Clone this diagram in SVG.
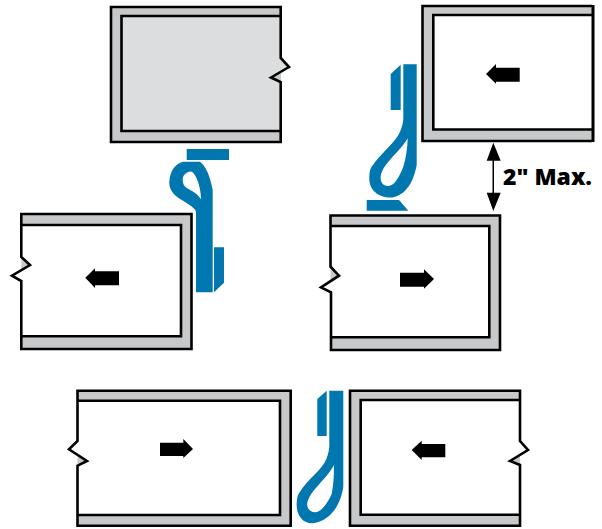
<svg xmlns="http://www.w3.org/2000/svg" width="602" height="529" viewBox="0 0 602 529">
<style>
.f{fill:#c7c8ca;stroke:none}
.w{fill:#fff;stroke:none}
.g{fill:#dcddde;stroke:none}
.l{fill:none;stroke:#000;stroke-width:2.6;stroke-linejoin:miter}
.c{fill:#0077ae}
.a{fill:#000}
text{font-family:"Open Sans","Liberation Sans",sans-serif;font-weight:800;font-size:23px;fill:#000}
</style>
<rect width="602" height="529" fill="#fff"/>
<g id="panel-top-left">
<path class="f" d="M111 7H281V142H111Z"/>
<path class="g" d="M121.500 16H280.700V58L289 67L271 77.500L281 82V131H121.500Z"/>
<path class="l" d="M280.700 16H121.500V131H280.700"/>
<path class="l" d="M280.700 7H111V142H280.700V82L271 77.500L289 67L280.700 58Z"/>
</g>
<g id="panel-top-right">
<path class="f" d="M422 6H592V141H422Z"/>
<path class="w" d="M433.300 15H592V129.500H433.300Z"/>
<path class="l" d="M592 15H433.300V129.500H592"/>
<path class="l" d="M592 6H422.500V141H592"/>
<path d="M593 5V142" fill="none" stroke="#000" stroke-width="3"/>
</g>
<g id="panel-mid-left">
<path class="f" d="M21.300 214H191.500V349H21.300Z"/>
<path class="w" d="M21.300 225H181V336.300H22V281L12 275.700L30 265L21.300 257Z"/>
<path class="l" d="M21.300 225H181V336.300H21.300"/>
<path class="l" d="M21.300 257V214H191.500V349H21.300V281L12 275.700L30 265Z"/>
</g>
<g id="panel-mid-right">
<path class="f" d="M330.500 215.500H500V350H330.500Z"/>
<path class="w" d="M330.500 226H489.300V337.300H331V292.300L321 287.300L339 275.700L330.500 266.700Z"/>
<path class="l" d="M330.500 226H489.300V337.300H330.500"/>
<path class="l" d="M330.500 266.700V215.500H500V350H331V292.300L321 287.300L339 275.700Z"/>
</g>
<g id="panel-bottom-left">
<path class="f" d="M77.500 390.700H290.700V525.700H77.500Z"/>
<path class="w" d="M77.500 400.700H280V515H77.500V465.700L87 461L69 449.300L77.500 441Z"/>
<path class="l" d="M77.500 400.700H280V515H77.500"/>
<path class="l" d="M77.500 441V390.700H290.700V525.700H77.500V465.700L87 461L69 449.300Z"/>
</g>
<g id="panel-bottom-right">
<path class="f" d="M350 390.700H520V525.700H350Z"/>
<path class="w" d="M360.700 400H520V441L528 450L510 461L520 465V514.700H360.700Z"/>
<path class="l" d="M520 400H360.700V514.700H520"/>
<path class="l" d="M520 441V390.700H350V525.700H520V465L510 461L528 450Z"/>
</g>
<g id="gasket-top-left" class="c">
<rect x="186.700" y="149" width="42.300" height="11"/>
<path fill-rule="evenodd" d="M183 161.700H200C206 166 210 176 212.700 190V292.300H196V211.700C195 208 190 205 180 199C172 194 169 188 169.300 181.700C170 171 175 164 183 161.700ZM189.300 171.700C185 173 182.500 176 182.700 180C183 184 184 186 186.700 188C192 191 197 193 201 199.300C201 192 199 183 196 177C194 173 192 171 189.300 171.700Z"/>
<path d="M214 247.300H224V282.700L214 292.300Z"/>
</g>
<g id="gasket-top-right" class="c">
<path d="M390.700 74L400.700 64.700V110H390.700Z"/>
<path fill-rule="evenodd" d="M403.300 64.300H416.700V165C414 180 407 195 392 197.500C378 198 369 190 369.300 178C369.500 172 370 169 371.700 166.700C380 154 396 142 400 131.700C402.500 126 403.300 122 403.300 118ZM407.700 138.300C400 152 383 163 380.700 176C380 182 383 186 388 186C395 186 400 175 403.300 166.700C406 158 407.500 148 407.700 138.300Z"/>
<path d="M366.700 200H399L408.300 210.700H366.700Z"/>
</g>
<g id="gasket-bottom" class="c">
<path d="M317.300 399L326.700 390.700V436H317.300Z"/>
<path fill-rule="evenodd" d="M329.300 390.700H343.300V486.700C341 502 333 520 313 523.300C302 524 296 514 296.700 503.300C297 497 298 494 300 491.700C308 479 323 469 326.700 458.300C328.500 453 329.300 449 329.300 445ZM334 465C327 479 310 490 307.300 503C306.500 508 310 512.300 315 512.300C322 512 328 502 331.700 494C333.500 485 334 475 334 465Z"/>
</g>
<g id="arrows">
<path class="a" d="M486 74L496 64V67.700H519.700V81.700H496V83.700Z"/>
<path class="a" d="M85.300 277.700L95 268.300V271.300H119V285.300H95V288Z"/>
<path class="a" d="M434 279L424 269.300V272.700H400V286.700H424V288.700Z"/>
<path class="a" d="M193 449L183.300 439V442.700H160V456H183.300V458Z"/>
<path class="a" d="M411.700 450L421.700 440.700V444H445.300V457.300H421.700V460Z"/>
</g>
<g id="dimension">
<path class="a" d="M493.300 142.700L500.700 160.700H494V192.700H500.700L493.300 211L486.700 192.700H492.500V160.700H486.700Z"/>
<text x="503" y="185" textLength="89" lengthAdjust="spacingAndGlyphs">2" Max.</text>
</g>
</svg>
